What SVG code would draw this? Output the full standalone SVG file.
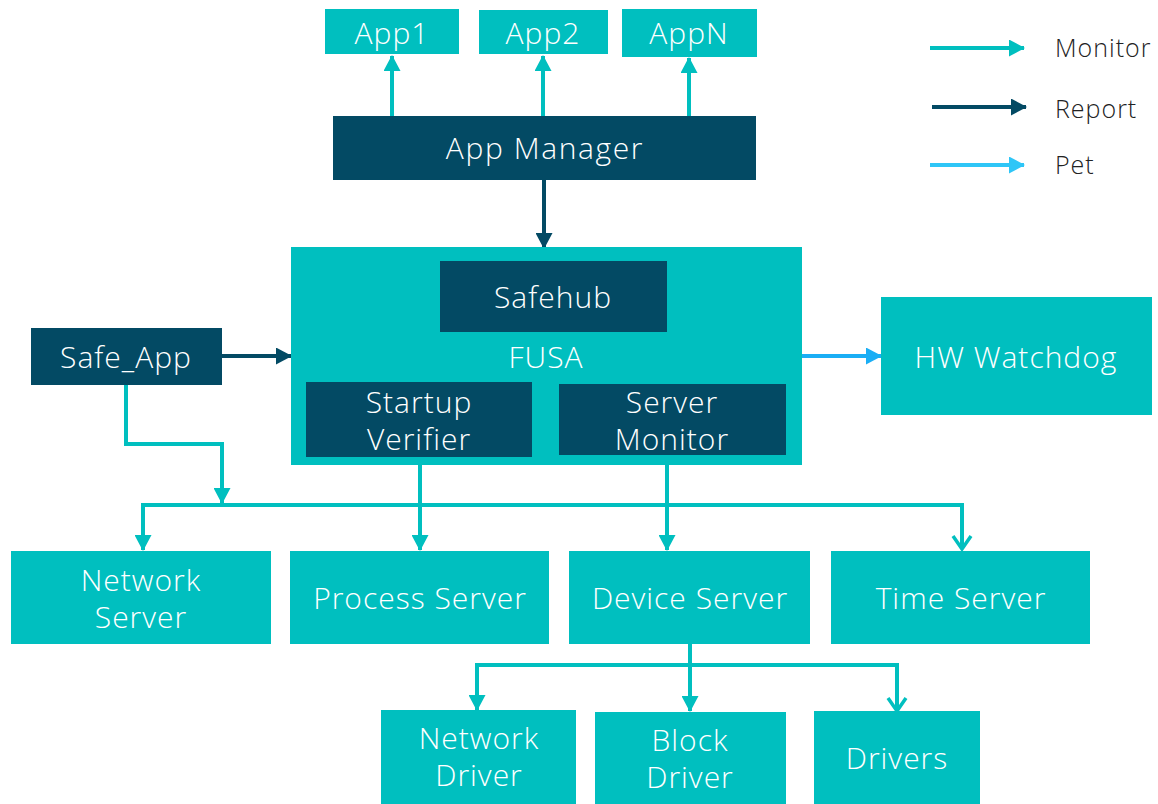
<svg xmlns="http://www.w3.org/2000/svg" width="1158" height="804" viewBox="0 0 1158 804">
<defs>
<style>
.t{fill:#00bfbf}
.d{fill:#034a64}
.lbl{font-family:"Open Sans",Lato,"Liberation Sans",sans-serif;font-weight:300;fill:#ffffff;text-anchor:middle;dominant-baseline:central;letter-spacing:1px;font-size:30px}
.leg{font-family:"Open Sans",Lato,"Liberation Sans",sans-serif;font-weight:300;fill:#222222;font-size:25px;dominant-baseline:central;letter-spacing:1px}
.mon{stroke:#00bfbf;stroke-width:4;fill:none}
.rep{stroke:#034a64;stroke-width:4;fill:none}
.pet{stroke:#1aaef5;stroke-width:4;fill:none}
</style>
<marker id="am" markerUnits="userSpaceOnUse" markerWidth="17" markerHeight="17" refX="15" refY="8.5" orient="auto"><path d="M0,0 L16,8.5 L0,17 Z" fill="#00bfbf"/></marker>
<marker id="ar" markerUnits="userSpaceOnUse" markerWidth="17" markerHeight="17" refX="15" refY="8.5" orient="auto"><path d="M0,0 L16,8.5 L0,17 Z" fill="#034a64"/></marker>
<marker id="ap" markerUnits="userSpaceOnUse" markerWidth="17" markerHeight="17" refX="15" refY="8.5" orient="auto"><path d="M0,0 L16,8.5 L0,17 Z" fill="#1aaef5"/></marker>
<marker id="apl" markerUnits="userSpaceOnUse" markerWidth="17" markerHeight="17" refX="15" refY="8.5" orient="auto"><path d="M0,0 L16,8.5 L0,17 Z" fill="#2ec6f7"/></marker>
<marker id="ao" markerUnits="userSpaceOnUse" markerWidth="18" markerHeight="22" refX="15" refY="11" orient="auto"><path d="M2,2 L15,11 L2,20" fill="none" stroke="#00bfbf" stroke-width="3.5"/></marker>
</defs>

<g id="connectors">
<line class="mon" x1="392" y1="116" x2="392" y2="56" marker-end="url(#am)"/>
<line class="mon" x1="543" y1="116" x2="543" y2="56" marker-end="url(#am)"/>
<line class="mon" x1="689" y1="116" x2="689" y2="58" marker-end="url(#am)"/>
<line class="rep" x1="544" y1="180" x2="544" y2="248" marker-end="url(#ar)"/>
<line class="rep" x1="222" y1="356" x2="291" y2="356" marker-end="url(#ar)"/>
<line class="pet" x1="802" y1="356" x2="881" y2="356" marker-end="url(#ap)"/>
<polyline class="mon" points="126,385 126,444 222,444 222,503" marker-end="url(#am)"/>
<polyline class="mon" points="143,550 143,505 962,505 962,549" marker-end="url(#ao)"/>
<line class="mon" x1="143" y1="505" x2="143" y2="550" marker-end="url(#am)"/>
<line class="mon" x1="420" y1="465" x2="420" y2="550" marker-end="url(#am)"/>
<line class="mon" x1="667" y1="455" x2="667" y2="550" marker-end="url(#am)"/>
<line class="mon" x1="690" y1="644" x2="690" y2="711" marker-end="url(#am)"/>
<polyline class="mon" points="477,710 477,665 897,665 897,711" marker-end="url(#ao)"/>
<line class="mon" x1="477" y1="665" x2="477" y2="710" marker-end="url(#am)"/>
<line class="mon" x1="930" y1="48" x2="1024" y2="48" marker-end="url(#am)"/>
<line class="rep" x1="932" y1="107" x2="1026" y2="107" marker-end="url(#ar)"/>
<line x1="930" y1="165" x2="1024" y2="165" style="stroke:#2ec6f7;stroke-width:4" marker-end="url(#apl)"/>
</g>

<g id="app1"><rect class="t" x="325" y="9" width="134" height="45"/><text class="lbl" x="392" y="32">App1</text></g>
<g id="app2"><rect class="t" x="479" y="10" width="129" height="44"/><text class="lbl" x="543" y="32">App2</text></g>
<g id="appN"><rect class="t" x="622" y="9" width="135" height="48"/><text class="lbl" x="689" y="32">AppN</text></g>
<g id="appManager"><rect class="d" x="333" y="116" width="423" height="64"/><text class="lbl" x="545" y="147" style="letter-spacing:1.6px">App Manager</text></g>

<g id="fusa"><rect class="t" x="291" y="247" width="511" height="218"/><text class="lbl" x="546" y="356">FUSA</text></g>
<g id="safehub"><rect class="d" x="440" y="261" width="227" height="71"/><text class="lbl" x="553" y="296">Safehub</text></g>
<g id="startupVerifier"><rect class="d" x="306" y="382" width="226" height="75"/><text class="lbl" x="419" y="401">Startup</text><text class="lbl" x="419" y="438">Verifier</text></g>
<g id="serverMonitor"><rect class="d" x="559" y="384" width="227" height="71"/><text class="lbl" x="672" y="401">Server</text><text class="lbl" x="672" y="438">Monitor</text></g>

<g id="safeApp"><rect class="d" x="31" y="328" width="191" height="57"/><text class="lbl" x="126" y="356">Safe_App</text></g>
<g id="hwWatchdog"><rect class="t" x="881" y="297" width="271" height="118"/><text class="lbl" x="1016" y="356">HW Watchdog</text></g>

<g id="networkServer"><rect class="t" x="11" y="551" width="260" height="93"/><text class="lbl" x="141" y="579">Network</text><text class="lbl" x="141" y="616">Server</text></g>
<g id="processServer"><rect class="t" x="290" y="551" width="259" height="93"/><text class="lbl" x="420" y="597">Process Server</text></g>
<g id="deviceServer"><rect class="t" x="569" y="551" width="241" height="93"/><text class="lbl" x="690" y="597">Device Server</text></g>
<g id="timeServer"><rect class="t" x="831" y="551" width="259" height="93"/><text class="lbl" x="961" y="597">Time Server</text></g>

<g id="networkDriver"><rect class="t" x="381" y="710" width="195" height="94"/><text class="lbl" x="479" y="737">Network</text><text class="lbl" x="479" y="774">Driver</text></g>
<g id="blockDriver"><rect class="t" x="595" y="712" width="191" height="92"/><text class="lbl" x="690" y="739">Block</text><text class="lbl" x="690" y="776">Driver</text></g>
<g id="drivers"><rect class="t" x="814" y="711" width="166" height="93"/><text class="lbl" x="897" y="757">Drivers</text></g>

<g id="legend">
<text class="leg" x="1055" y="47">Monitor</text>
<text class="leg" x="1055" y="108">Report</text>
<text class="leg" x="1055" y="164">Pet</text>
</g>
</svg>
